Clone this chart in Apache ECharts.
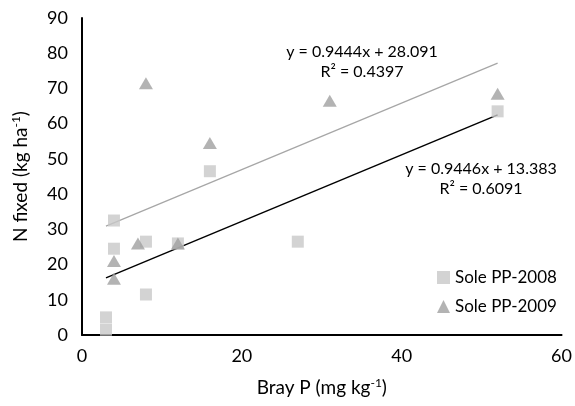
<!DOCTYPE html>
<html><head><meta charset="utf-8">
<script src="https://cdn.jsdelivr.net/npm/echarts@6/dist/echarts.min.js"></script>
<style>html,body{margin:0;padding:0;background:#fff}#c{width:575px;height:406px}</style>
</head><body><div id="c"></div>
<script>
var xTicks = [0, 20, 40, 60];
var yTicks = [0, 10, 20, 30, 40, 50, 60, 70, 80, 90];
var pp2008 = [[3,1.5],[3,5],[4,24.5],[4,32.5],[8,26.5],[8,11.5],[12,26],[16,46.5],[27,26.5],[52,63.5]];
var pp2009 = [[4,16],[4,21],[7,26],[8,71.5],[12,26],[16,54.5],[31,66.5],[52,68.5]];
var trendRange = [3, 52];
var fit2008 = {slope: 0.9446, intercept: 13.383, eq: 'y = 0.9446x + 13.383', r2: '0.6091'};
var fit2009 = {slope: 0.9444, intercept: 28.091, eq: 'y = 0.9444x + 28.091', r2: '0.4397'};
function line(f){ return trendRange.map(function(x){ return [x, f.slope*x + f.intercept]; }); }

var font = 'Lato, "Open Sans", sans-serif';
var nameRich = {a: {fontSize: 19, fontFamily: font, color: '#000'}, s: {fontSize: 12, fontFamily: font, color: '#000', verticalAlign: 'top', padding: [0,0,10,0]}};
var chart = echarts.init(document.getElementById('c'));
chart.setOption({
  animation: false,
  grid: {left: 82, right: 5, top: 18, bottom: 71},
  xAxis: {type: 'value', min: xTicks[0], max: xTicks[xTicks.length-1], interval: 20,
    axisLine: {lineStyle: {color: '#000', width: 2}}, axisTick: {show: false}, splitLine: {show: false},
    axisLabel: {color: '#000', fontSize: 18, fontFamily: font, margin: 12},
    name: '{a|Bray P (mg kg}{s|-1}{a|)}', nameLocation: 'middle', nameGap: 42,
    nameTextStyle: {rich: nameRich}
  },
  yAxis: {type: 'value', min: yTicks[0], max: yTicks[yTicks.length-1], interval: 10,
    axisLine: {show: true, lineStyle: {color: '#000', width: 2}}, axisTick: {show: false}, splitLine: {show: false},
    axisLabel: {color: '#000', fontSize: 18, fontFamily: font, margin: 14},
    name: '{a|N fixed (kg ha}{s|-1}{a|)}', nameLocation: 'middle', nameGap: 50, nameRotate: 90,
    nameTextStyle: {rich: nameRich}
  },
  legend: {orient: 'vertical', left: 432, top: 264, itemGap: 12, itemWidth: 13, itemHeight: 13,
    textStyle: {fontSize: 17, fontFamily: font, color: '#000'},
    data: [{name: 'Sole PP-2008', icon: 'rect'}, {name: 'Sole PP-2009', icon: 'triangle'}]},
  graphic: [
    {type: 'text', x: 362, y: 62, style: {text: fit2009.eq + '\nR² = ' + fit2009.r2, fontSize: 16, fontFamily: font, fill: '#000', align: 'center', verticalAlign: 'middle', lineHeight: 20}},
    {type: 'text', x: 481, y: 179, style: {text: fit2008.eq + '\nR² = ' + fit2008.r2, fontSize: 16, fontFamily: font, fill: '#000', align: 'center', verticalAlign: 'middle', lineHeight: 20}}
  ],
  series: [
    {name: 'trend2009', type: 'line', data: line(fit2009), symbol: 'none', lineStyle: {color: '#a6a6a6', width: 1.2}, z: 1, silent: true},
    {name: 'trend2008', type: 'line', data: line(fit2008), symbol: 'none', lineStyle: {color: '#000', width: 1.5}, z: 1, silent: true},
    {name: 'Sole PP-2008', type: 'scatter', data: pp2008, symbol: 'rect', symbolSize: 12, itemStyle: {color: '#c8c8c8'}, z: 3},
    {name: 'Sole PP-2009', type: 'scatter', data: pp2009, symbol: 'triangle', symbolSize: [14, 12], itemStyle: {color: '#a0a0a0'}, z: 3}
  ]
});
</script></body></html>
